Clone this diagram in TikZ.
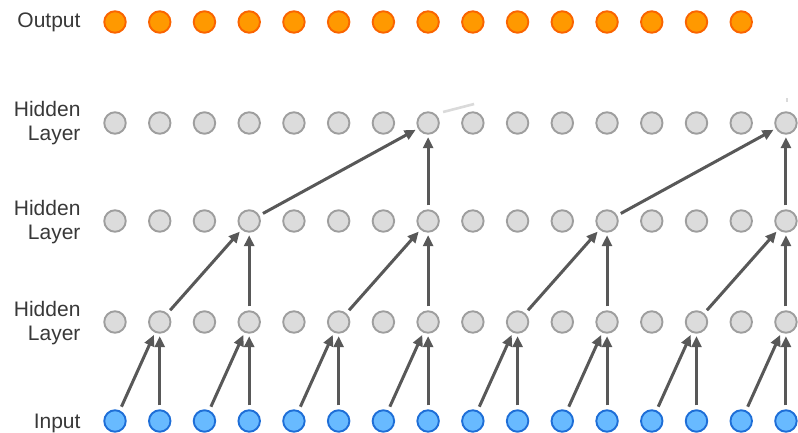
\documentclass[tikz,border=0pt]{standalone}
\usepackage{fontspec}
\setmainfont{Liberation Sans}
\usetikzlibrary{arrows.meta, positioning, calc}
\definecolor{outFill}{RGB}{255,153,0}
\definecolor{outEdge}{RGB}{250,100,0}
\definecolor{hidFill}{RGB}{220,220,220}
\definecolor{hidEdge}{RGB}{158,158,158}
\definecolor{inFill}{RGB}{104,186,255}
\definecolor{inEdge}{RGB}{30,110,215}
\definecolor{arrowGray}{RGB}{88,88,88}
\definecolor{ghostGray}{RGB}{218,218,218}

\begin{document}
\begin{tikzpicture}[x=1pt, y=-1pt,
    unit/.style={circle, minimum size=21.5pt, inner sep=0pt, line width=1.9pt},
    outUnit/.style={unit, fill=outFill, draw=outEdge},
    hidUnit/.style={unit, fill=hidFill, draw=hidEdge},
    inUnit/.style={unit, fill=inFill, draw=inEdge},
    conn/.style={-{Triangle[length=11pt,width=10pt]}, line width=3pt, arrowGray,
      shorten <=4pt, shorten >=2.5pt},
    ghost/.style={line width=2.6pt, ghostGray},
    lbl/.style={anchor=east, align=right, font=\fontsize{21}{24.5}\selectfont, text=black!78}]
  \useasboundingbox (0,0) rectangle (798,433);

  % row labels
  \node[lbl] (lblOut) at (84,22) {Output};
  \node[lbl] (lblHc) at (84,123) {Hidden\\Layer};
  \node[lbl] (lblHb) at (84,222) {Hidden\\Layer};
  \node[lbl] (lblHa) at (84,323) {Hidden\\Layer};
  \node[lbl] (lblIn) at (84,423) {Input};

  % units
  \foreach \k in {0,...,14}
    \node[outUnit] (out\k) at ({115+44.73*\k},22) {};
  \foreach \k in {0,...,15} {
    \node[hidUnit] (hc\k) at ({115+44.73*\k},123) {};
    \node[hidUnit] (hb\k) at ({115+44.73*\k},221) {};
    \node[hidUnit] (ha\k) at ({115+44.73*\k},322) {};
    \node[inUnit] (in\k) at ({115+44.73*\k},421) {};
  }

  % input -> first hidden layer (dilation 1)
  \foreach \k in {1,3,...,15} {
    \pgfmathtruncatemacro\p{\k-1}
    \draw[conn] (in\p) -- (ha\k);
    \draw[conn] (in\k) -- (ha\k);
  }
  % dilation 2
  \foreach \k in {3,7,11,15} {
    \pgfmathtruncatemacro\p{\k-2}
    \draw[conn] (ha\p) -- (hb\k);
    \draw[conn] (ha\k) -- (hb\k);
  }
  % dilation 4
  \foreach \k in {7,15} {
    \pgfmathtruncatemacro\p{\k-4}
    \draw[conn] (hb\p) -- (hc\k);
    \draw[conn] (hb\k) -- (hc\k);
  }

  % faded strokes left over above the top layer
  \draw[ghost] ($(hc7)+(15,-11)$) -- ++(31,-8);
  \draw[ghost] ($(hc15)+(1,-21)$) -- ++(0,-4);
\end{tikzpicture}
\end{document}
